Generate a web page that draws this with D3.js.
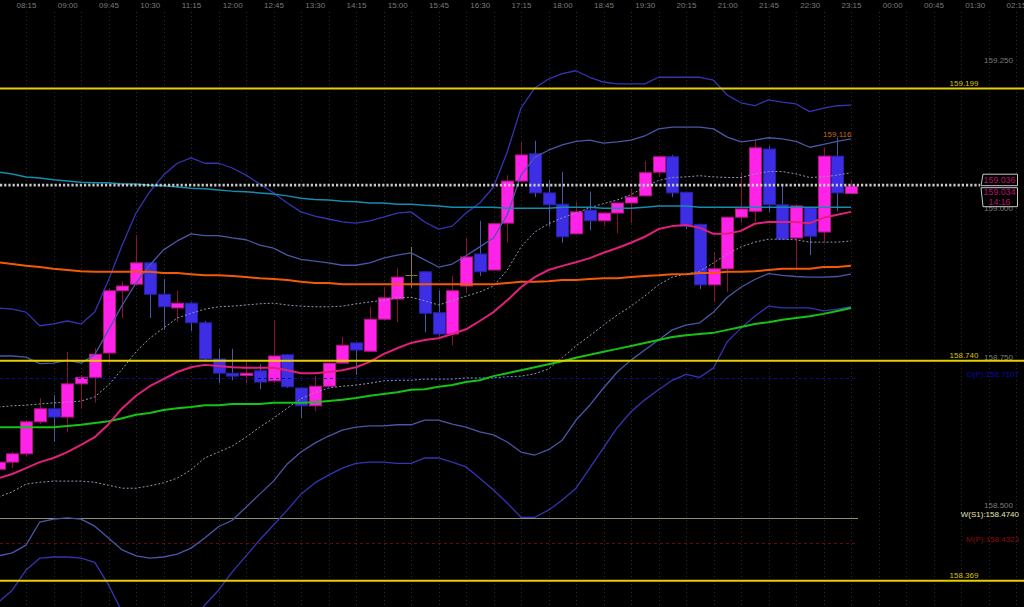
<!DOCTYPE html>
<html><head><meta charset="utf-8">
<script src="https://cdn.jsdelivr.net/npm/d3@7"></script>
<style>
html,body{margin:0;padding:0;background:#000;overflow:hidden}
svg{display:block}
</style></head><body>
<svg id="c" width="1024" height="607"></svg>
<script>
// ---- DATA (15-minute bars, bar 0 = 08:00, first visible bar = -1) ----
const open  = [158.557,158.569,158.583,158.637,158.659,158.645,158.701,158.712,158.753,158.858,158.869,158.905,158.852,158.829,158.837,158.804,158.743,158.719,158.715,158.723,158.706,158.750,158.694,158.664,158.697,158.736,158.770,158.756,158.810,158.844,158.885,158.890,158.821,158.785,158.866,158.920,158.893,158.972,159.043,159.089,159.023,159.004,158.954,158.994,158.976,158.989,159.006,159.018,159.058,159.084,159.024,158.970,158.868,158.895,158.982,158.992,159.097,159.003,158.947,158.998,158.957,159.085,159.022];
const high  = [158.576,158.586,158.640,158.677,158.682,158.755,158.716,158.761,158.861,158.874,158.952,158.906,158.878,158.858,158.839,158.807,158.760,158.760,158.738,158.734,158.807,158.751,158.695,158.714,158.737,158.780,158.771,158.831,158.864,158.896,158.932,158.891,158.859,158.883,158.947,158.976,158.972,159.053,159.109,159.111,159.045,159.058,159.008,159.025,158.990,159.007,159.030,159.077,159.085,159.087,159.025,158.971,158.923,158.983,159.057,159.113,159.102,159.036,159.002,158.999,159.100,159.116,159.043];
const low   = [158.552,158.559,158.579,158.633,158.603,158.620,158.660,158.669,158.736,158.812,158.866,158.812,158.792,158.805,158.790,158.740,158.702,158.707,158.702,158.692,158.702,158.694,158.643,158.655,158.696,158.735,158.716,158.755,158.809,158.805,158.863,158.788,158.782,158.766,158.854,158.883,158.892,158.939,159.041,159.016,158.966,158.939,158.953,158.960,158.967,158.955,158.972,159.017,159.050,159.016,158.962,158.861,158.839,158.856,158.972,158.974,158.991,158.944,158.896,158.918,158.939,158.992,159.021];
const close = [158.569,158.583,158.637,158.659,158.645,158.701,158.712,158.751,158.858,158.866,158.905,158.852,158.831,158.837,158.804,158.743,158.719,158.714,158.719,158.704,158.748,158.696,158.664,158.697,158.736,158.766,158.758,158.810,158.846,158.881,158.885,158.820,158.785,158.858,158.915,158.890,158.971,159.043,159.087,159.023,159.003,158.949,158.991,158.976,158.989,159.006,159.016,159.057,159.084,159.023,158.967,158.868,158.895,158.982,158.996,159.099,159.003,158.945,159.001,158.950,159.085,159.023,159.034];

const bbUpper3 = [158.829,158.827,158.822,158.799,158.802,158.807,158.802,158.822,158.876,158.935,158.989,159.025,159.053,159.073,159.082,159.073,159.073,159.065,159.053,159.038,159.023,159.006,158.991,158.984,158.979,158.974,158.972,158.976,158.982,158.989,158.991,158.974,158.962,158.967,158.989,159.006,159.033,159.092,159.166,159.200,159.215,159.224,159.229,159.218,159.210,159.207,159.207,159.207,159.218,159.218,159.218,159.218,159.213,159.188,159.175,159.170,159.180,159.176,159.173,159.160,159.166,159.170,159.171];
const bbUpper2 = [158.748,158.748,158.746,158.735,158.736,158.741,158.736,158.750,158.792,158.834,158.871,158.901,158.927,158.942,158.954,158.951,158.951,158.947,158.944,158.935,158.930,158.918,158.911,158.908,158.905,158.901,158.901,158.905,158.913,158.918,158.922,158.910,158.898,158.903,158.917,158.932,158.947,158.986,159.053,159.083,159.095,159.104,159.110,159.112,159.107,159.109,159.112,159.119,159.131,159.134,159.134,159.134,159.131,159.117,159.109,159.112,159.116,159.114,159.110,159.100,159.105,159.110,159.114];
const bbUpper1 = [158.662,158.664,158.665,158.667,158.669,158.670,158.672,158.679,158.699,158.726,158.755,158.778,158.795,158.812,158.820,158.827,158.831,158.832,158.834,158.836,158.837,158.834,158.832,158.831,158.831,158.832,158.836,158.839,158.842,158.846,158.847,158.841,158.834,158.841,158.849,158.856,158.866,158.893,158.932,158.957,158.971,158.981,158.989,158.998,159.005,159.011,159.020,159.033,159.044,159.049,159.050,159.052,159.050,159.049,159.049,159.055,159.059,159.059,159.055,159.049,159.050,159.053,159.057];
const bbLower1 = [158.510,158.519,158.532,158.535,158.537,158.537,158.537,158.535,158.530,158.525,158.525,158.529,158.534,158.542,158.556,158.576,158.586,158.596,158.611,158.628,158.643,158.660,158.676,158.686,158.694,158.697,158.699,158.702,158.706,158.707,158.707,158.709,158.709,158.709,158.711,158.711,158.711,158.713,158.714,158.718,158.726,158.745,158.765,158.782,158.800,158.817,158.832,158.849,158.868,158.881,158.886,158.891,158.905,158.920,158.932,158.940,158.945,158.945,158.944,158.940,158.940,158.940,158.942];
const bbLower2 = [158.411,158.416,158.429,158.468,158.473,158.475,158.473,158.461,158.441,158.421,158.411,158.407,158.409,158.414,158.424,158.441,158.460,158.471,158.493,158.515,158.537,158.566,158.586,158.601,158.613,158.623,158.628,158.630,158.630,158.632,158.632,158.640,158.640,158.633,158.628,158.620,158.615,158.603,158.586,158.581,158.590,158.606,158.640,158.665,158.694,158.721,158.741,158.758,158.775,158.792,158.800,158.804,158.822,158.847,158.864,158.877,158.887,158.884,158.882,158.881,158.881,158.882,158.886];
const bbLower3 = [158.333,158.353,158.387,158.407,158.409,158.409,158.407,158.400,158.362,158.316,158.286,158.272,158.269,158.276,158.299,158.328,158.353,158.384,158.411,158.438,158.463,158.488,158.515,158.534,158.547,158.559,158.567,158.569,158.569,158.567,158.567,158.576,158.576,158.569,158.561,158.542,158.522,158.500,158.476,158.476,158.488,158.505,158.525,158.559,158.593,158.627,158.654,158.674,158.691,158.707,158.717,158.712,158.728,158.772,158.795,158.815,158.832,158.829,158.829,158.829,158.824,158.827,158.831];

const maPink   = [158.542,158.549,158.559,158.569,158.576,158.586,158.598,158.611,158.633,158.660,158.681,158.697,158.709,158.721,158.729,158.733,158.731,158.729,158.728,158.728,158.728,158.724,158.719,158.719,158.721,158.724,158.729,158.738,158.751,158.761,158.770,158.775,158.778,158.785,158.793,158.807,158.822,158.842,158.864,158.881,158.893,158.900,158.906,158.913,158.922,158.930,158.939,158.949,158.962,158.967,158.969,158.964,158.954,158.954,158.959,158.971,158.974,158.974,158.974,158.972,158.981,158.986,158.991];
const maGreen  = [158.628,158.628,158.628,158.628,158.628,158.630,158.632,158.635,158.638,158.643,158.649,158.652,158.657,158.660,158.662,158.665,158.665,158.667,158.667,158.667,158.669,158.669,158.669,158.670,158.672,158.674,158.677,158.681,158.684,158.687,158.691,158.692,158.696,158.699,158.704,158.707,158.714,158.719,158.724,158.729,158.734,158.739,158.745,158.750,158.755,158.760,158.765,158.770,158.775,158.780,158.783,158.785,158.787,158.792,158.797,158.802,158.805,158.809,158.812,158.815,158.819,158.824,158.829];
const maOrange = [158.906,158.903,158.900,158.898,158.895,158.893,158.891,158.890,158.890,158.890,158.890,158.890,158.888,158.888,158.886,158.884,158.884,158.883,158.881,158.879,158.878,158.876,158.873,158.871,158.871,158.869,158.869,158.869,158.869,158.869,158.869,158.869,158.869,158.869,158.869,158.869,158.869,158.871,158.873,158.873,158.874,158.876,158.876,158.878,158.879,158.879,158.881,158.883,158.884,158.886,158.886,158.888,158.888,158.890,158.890,158.891,158.893,158.895,158.895,158.895,158.898,158.898,158.900];
const maTeal   = [159.058,159.055,159.050,159.048,159.045,159.043,159.041,159.040,159.040,159.038,159.038,159.036,159.035,159.033,159.031,159.030,159.028,159.026,159.025,159.023,159.021,159.018,159.014,159.012,159.011,159.009,159.008,159.006,159.006,159.004,159.004,159.002,159.001,158.999,158.999,158.999,158.999,158.997,158.997,158.997,158.997,158.999,158.999,158.999,158.997,158.997,158.997,158.999,159.001,159.001,159.001,158.999,158.999,158.999,158.999,158.999,158.999,158.999,158.999,158.999,158.999,158.999,158.999];

const timeLabels = ["08:15","09:00","09:45","10:30","11:15","12:00","12:45","13:30","14:15","15:00","15:45","16:30","17:15","18:00","18:45","19:30","20:15","21:00","21:45","22:30","23:15","00:00","00:45","01:30","02:15"];
const timeLabelBars = [1,4,7,10,13,16,19,22,25,28,31,34,37,40,43,46,49,52,55,58,61,64,67,70,73];
const gridBars = [1,3,5,7,9,11,13,15,17,19,21,23,25,27,29,31,33,35,37,39,41,43,45,47,49,51,53,55,57,59,61,63,65,67,69,71,73];
const priceTicks = [158.500, 158.750, 159.000, 159.250];
const yellowLevels = [159.199, 158.740, 158.369];
const pivotNames = ["D(P)", "W(S1)", "M(P)"];
const pivotValues = [158.7107, 158.4740, 158.4323];
const currentPrice = 159.036;
const lastClose = 159.034;
const barTimer = "14:16";
const highMarkBar = 60;
const highMarkValue = 159.116;

// ---- SCALES ----
const firstBar = -1;
const bars = open.map((_, i) => i + firstBar);
const x = d3.scaleLinear().domain([-1, 73]).range([-1.5, 1016]);
const y = d3.scaleLinear().domain([158.3247, 159.3483]).range([607, 0]);

const svg = d3.select("#c");
const FONT = "'Liberation Sans', Arial, sans-serif";
svg.append("rect").attr("width", 1024).attr("height", 607).attr("fill", "#000");

// grid
svg.append("g").selectAll("line").data(gridBars).join("line")
  .attr("x1", d => Math.round(x(d)) + 0.5).attr("x2", d => Math.round(x(d)) + 0.5)
  .attr("y1", 12).attr("y2", 607)
  .attr("stroke", "#2e2e2e").attr("stroke-dasharray", "1,3");

// top time axis
const axT = svg.append("g").attr("transform", "translate(0,8)")
  .call(d3.axisTop(x).tickValues(timeLabelBars).tickFormat((d, i) => timeLabels[i]).tickSize(0).tickPadding(0));
axT.select(".domain").remove();
axT.selectAll("text").attr("fill", "#7a7a7a").attr("font-family", FONT).attr("font-size", 8);

// right price axis
const axR = svg.append("g").attr("transform", "translate(1013,0)")
  .call(d3.axisLeft(y).tickValues(priceTicks).tickFormat(d3.format(".3f")).tickSize(0).tickPadding(0));
axR.select(".domain").remove();
axR.selectAll("text").attr("fill", "#7a7a7a").attr("font-family", FONT).attr("font-size", 8).attr("dy", "0.55em");

// candles
const cg = svg.append("g");
const bw = 12;
bars.forEach((b, i) => {
  const o = open[i], c = close[i], h = high[i], l = low[i];
  const cx = Math.round(x(b)) + 0.5;
  const doji = o === c;
  const bull = c > o;
  const wickCol = doji ? "#8a7a22" : (bull ? "#8a1238" : "#4a58a8");
  cg.append("line").attr("x1", cx).attr("x2", cx).attr("y1", y(h)).attr("y2", y(l))
    .attr("stroke", wickCol).attr("stroke-width", 1);
  if (doji) {
    cg.append("line").attr("x1", cx - bw / 2).attr("x2", cx + bw / 2)
      .attr("y1", Math.round(y(o)) + 0.5).attr("y2", Math.round(y(o)) + 0.5)
      .attr("stroke", "#8a7a22").attr("stroke-width", 1);
  } else {
    const top = y(Math.max(o, c)), bot = y(Math.min(o, c));
    cg.append("rect")
      .attr("x", cx - bw / 2).attr("y", top)
      .attr("width", bw).attr("height", Math.max(1.5, bot - top))
      .attr("fill", bull ? "#ff22e8" : "#3d2ee6")
      .attr("stroke", bull ? "#b3157f" : "#2a20a8").attr("stroke-width", 1);
  }
});

// pivot lines
const pivStyles = [
  {stroke: "#0a0a9a", dash: "3,3", text: "#0a0aa8", w: 1},
  {stroke: "#8f8f72", dash: null, text: "#e6e6bc", w: 1},
  {stroke: "#6a0808", dash: "3,3", text: "#8e0a0a", w: 1}
];
pivotValues.forEach((v, i) => {
  const st = pivStyles[i];
  const yy = Math.round(y(v)) + 0.5;
  const ln = svg.append("line").attr("x1", 0).attr("x2", 858).attr("y1", yy).attr("y2", yy)
    .attr("stroke", st.stroke).attr("stroke-width", st.w);
  if (st.dash) ln.attr("stroke-dasharray", st.dash);
  svg.append("text").attr("x", 1019).attr("y", y(v) - 1.5).attr("text-anchor", "end")
    .attr("font-family", FONT).attr("font-size", 8).attr("fill", st.text)
    .text(pivotNames[i] + ":" + d3.format(".4f")(v));
});

// indicator lines
const line = d3.line().x((d, i) => x(bars[i])).y(d => y(d));
function path(data, color, width, dash) {
  const p = svg.append("path").attr("d", line(data)).attr("fill", "none")
    .attr("stroke", color).attr("stroke-width", width).attr("stroke-linejoin", "round");
  if (dash) p.attr("stroke-dasharray", dash);
}
path(bbUpper3, "#3434b4", 1.3);
path(bbLower3, "#3434b4", 1.3);
path(bbUpper2, "#4858a6", 1.3);
path(bbLower2, "#4858a6", 1.3);
path(bbUpper1, "#8b9bb4", 1, "2,2");
path(bbLower1, "#8b9bb4", 1, "2,2");
path(maTeal, "#138cae", 1.5);
path(maOrange, "#f25a06", 2);
path(maGreen, "#16c216", 2);
path(maPink, "#e2207c", 2);

// yellow levels
yellowLevels.forEach(v => {
  svg.append("line").attr("x1", 0).attr("x2", 1024).attr("y1", y(v)).attr("y2", y(v))
    .attr("stroke", "#e6cf00").attr("stroke-width", 2);
  svg.append("text").attr("x", 964).attr("y", y(v) - 2.5).attr("text-anchor", "middle")
    .attr("font-family", FONT).attr("font-size", 8).attr("fill", "#d8c400")
    .text(d3.format(".3f")(v));
});

// current price dotted line
svg.append("line").attr("x1", 0).attr("x2", 980)
  .attr("y1", y(currentPrice)).attr("y2", y(currentPrice))
  .attr("stroke", "#c8c8c8").attr("stroke-width", 2.8).attr("stroke-dasharray", "2.2,2");

// high mark label
svg.append("text").attr("x", x(highMarkBar)).attr("y", y(highMarkValue) - 0.7)
  .attr("text-anchor", "middle").attr("font-family", FONT).attr("font-size", 8)
  .attr("fill", "#c8661c").text(d3.format(".3f")(highMarkValue));

// price box
const yc = y(currentPrice);
svg.append("path")
  .attr("d", `M983,${yc - 11} L1017.5,${yc - 11} L1017.5,${yc + 0.5} L981,${yc + 0.5} Z`)
  .attr("fill", "#000").attr("stroke", "#c8c8c8").attr("stroke-width", 1);
svg.append("path")
  .attr("d", `M981,${yc + 2.5} L1017.5,${yc + 2.5} L1017.5,${yc + 21.5} L983,${yc + 21.5} Z`)
  .attr("fill", "#000").attr("stroke", "#c8c8c8").attr("stroke-width", 1);
const boxTxt = [[d3.format(".3f")(currentPrice), yc - 2.4], [d3.format(".3f")(lastClose), yc + 10], [barTimer, yc + 19.8]];
boxTxt.forEach(([t, yy]) => {
  svg.append("text").attr("x", 999.5).attr("y", yy).attr("text-anchor", "middle")
    .attr("font-family", FONT).attr("font-size", 8.8).attr("fill", "#b8106a").text(t);
});
</script>
</body></html>
